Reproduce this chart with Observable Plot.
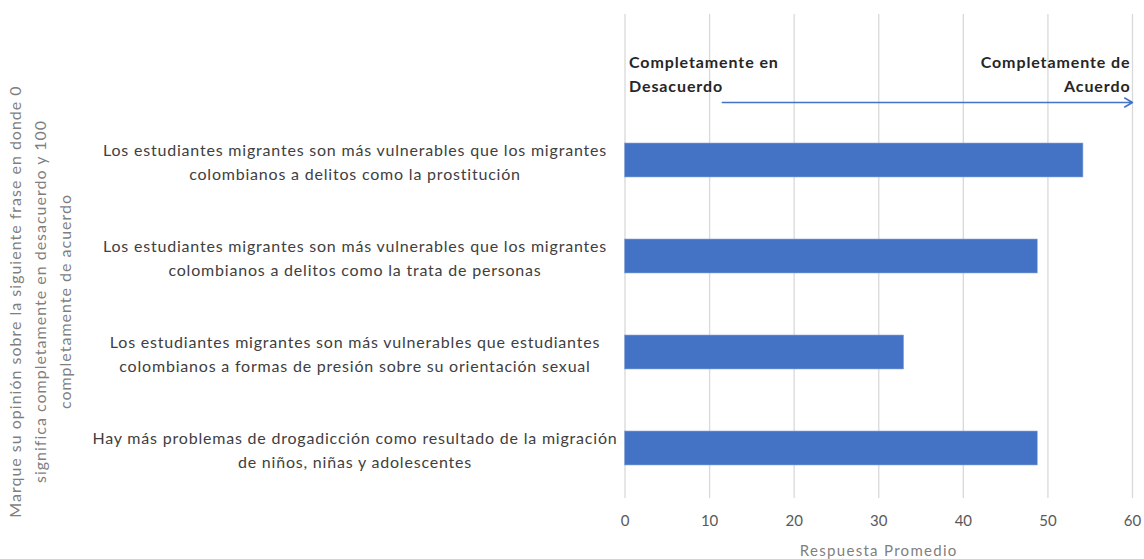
<!DOCTYPE html>
<html><head><meta charset="utf-8">
<script src="https://cdn.jsdelivr.net/npm/d3@7"></script>
<script src="https://cdn.jsdelivr.net/npm/@observablehq/plot@0.6"></script>
<style>
body{margin:0;background:#fff;}
svg{font-family:Lato, sans-serif;}
</style></head><body><div id="chart"></div>
<script>
const categories = [
  "Los estudiantes migrantes son más vulnerables que los migrantes\ncolombianos a delitos como la prostitución",
  "Los estudiantes migrantes son más vulnerables que los migrantes\ncolombianos a delitos como la trata de personas",
  "Los estudiantes migrantes son más vulnerables que estudiantes\ncolombianos a formas de presión sobre su orientación sexual",
  "Hay más problemas de drogadicción como resultado de la migración\nde niños, niñas y adolescentes"
];
const values = [54.2, 48.8, 33.0, 48.8];
const xTicks = [0, 10, 20, 30, 40, 50, 60];
const xLabel = "Respuesta Promedio";
const yTitle = "Marque su opinión sobre la siguiente frase en donde 0\nsignifica completamente en desacuerdo y 100\ncompletamente de acuerdo";
const leftNote = "Completamente en\nDesacuerdo";
const rightNote = "Completamente de\nAcuerdo";
const arrowFrom = 11.5, arrowTo = 60;

const blank = " ";
const data = categories.map((c, i) => ({cat: c, value: values[i]}));

const chart = Plot.plot({
  width: 1144, height: 559,
  marginLeft: 624.5, marginRight: 12, marginTop: 14, marginBottom: 61,
  x: {domain: [0, 60]},
  y: {domain: [blank, ...categories], paddingInner: 0.65, paddingOuter: 0.325, axis: null},
  marks: [
    Plot.gridX(xTicks, {stroke: "#d9d9d9", strokeOpacity: 1, strokeWidth: 1.3}),
    Plot.barX(data, {x: "value", y: "cat", fill: "#4472C4", stroke: "#8eaadb", strokeWidth: 0.6}),
    Plot.axisX({ticks: xTicks, tickSize: 0, tickPadding: 17, fontSize: 15, color: "#595959",
      label: xLabel, labelAnchor: "center", labelArrow: "none", labelOffset: 57}),
    Plot.text(data, {y: "cat", text: "cat", frameAnchor: "left", dx: -270, textAnchor: "middle",
      fontSize: 16, fill: "#404040", lineHeight: 1.5}),
    Plot.text([yTitle], {text: d => d, frameAnchor: "left", rotate: -90, dx: -587, dy: 45,
      textAnchor: "middle", fontSize: 16, fill: "#7f7f7f", lineHeight: 1.55}),
    Plot.text([leftNote], {text: d => d, x: 0, y: () => blank, dx: 4, dy: 8, textAnchor: "start",
      fontSize: 16, fontWeight: "bold", fill: "#262626", lineHeight: 1.45}),
    Plot.text([rightNote], {text: d => d, x: 60, y: () => blank, dx: -2, dy: 8, textAnchor: "end",
      fontSize: 16, fontWeight: "bold", fill: "#262626", lineHeight: 1.45}),
    Plot.arrow([0], {x1: () => arrowFrom, x2: () => arrowTo, y1: () => blank, y2: () => blank, dy: 38,
      stroke: "#4472C4", strokeWidth: 1.5, headLength: 9, bend: 0})
  ]
});
const textGroups = chart.querySelectorAll("g[aria-label='text']");
const spacing = ["0.8px", "1px", "0.9px", "0.9px"];
textGroups.forEach((g, i) => { if (spacing[i]) g.style.letterSpacing = spacing[i]; });
chart.querySelectorAll("g[aria-label='x-axis label']").forEach(e => {
  e.setAttribute("fill", "#7f7f7f"); e.setAttribute("font-size", "15"); e.style.letterSpacing = "1.3px";
});
document.getElementById("chart").appendChild(chart);
</script></body></html>
